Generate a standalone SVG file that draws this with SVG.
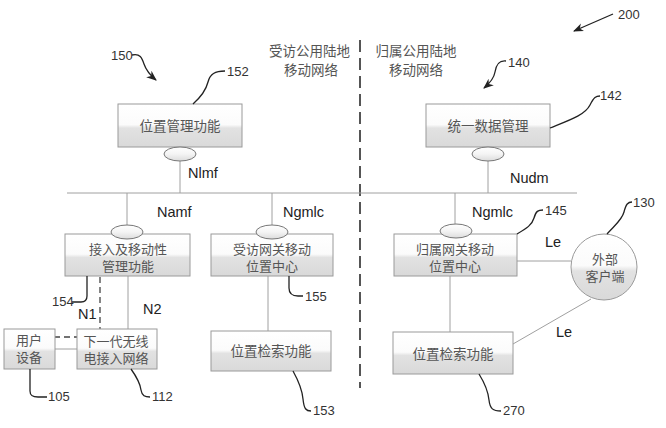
<svg xmlns="http://www.w3.org/2000/svg" width="666" height="428" viewBox="0 0 666 428">
<defs>
<linearGradient id="boxg" x1="0" y1="0" x2="0" y2="1">
<stop offset="0" stop-color="#ffffff"/>
<stop offset="0.48" stop-color="#fbfbfb"/>
<stop offset="0.56" stop-color="#e2e2e2"/>
<stop offset="1" stop-color="#d9d9d9"/>
</linearGradient>
<linearGradient id="ellg" x1="0" y1="0" x2="0" y2="1">
<stop offset="0" stop-color="#ffffff"/>
<stop offset="0.5" stop-color="#f4f4f4"/>
<stop offset="1" stop-color="#dcdcdc"/>
</linearGradient>
<marker id="ah" viewBox="0 0 10 10" refX="9" refY="5" markerWidth="8" markerHeight="8" orient="auto-start-reverse">
<path d="M0,1 L10,5 L0,9 L3,5 Z" fill="#222"/>
</marker>
</defs>
<style>
.box{fill:url(#boxg);stroke:#9a9a9a;stroke-width:1}
.ell{fill:url(#ellg);stroke:#777;stroke-width:1}
.ln{stroke:#a0a0a0;stroke-width:1;fill:none}
.ld{stroke:#222;stroke-width:1.3;fill:none}
.cn{font-family:"Noto Sans CJK SC","Noto Sans CJK JP",sans-serif;font-size:13.5px;fill:#555;text-anchor:middle}
.c2{font-size:13px}
.lab{font-family:"Liberation Sans","Open Sans",Arial,sans-serif;font-size:14.5px;fill:#222}
.ref{font-family:"Liberation Sans",Arial,sans-serif;font-size:13px;fill:#333}
</style>
<rect width="666" height="428" fill="#ffffff"/>

<!-- divider and region titles -->
<line x1="360" y1="40" x2="360" y2="388" stroke="#555" stroke-width="2" stroke-dasharray="12,6"/>
<text class="cn" x="309.5" y="56">受访公用陆地</text>
<text class="cn" x="311" y="75">移动网络</text>
<text class="cn" x="416" y="56">归属公用陆地</text>
<text class="cn" x="416" y="75">移动网络</text>

<g id="connectors">
<line class="ln" x1="67" y1="193" x2="577" y2="193"/>
<line class="ln" x1="180" y1="161" x2="180" y2="193"/>
<line class="ln" x1="488" y1="161" x2="488" y2="193"/>
<line class="ln" x1="127" y1="193" x2="127" y2="225"/>
<line class="ln" x1="272" y1="193" x2="272" y2="225"/>
<line class="ln" x1="455" y1="193" x2="455" y2="224"/>
<line class="ln" x1="128" y1="276" x2="128" y2="329"/>
<line class="ln" x1="55" y1="349" x2="77" y2="349"/>
<path d="M100,277 L100,337 L48,337" fill="none" stroke="#444" stroke-width="1.3" stroke-dasharray="6,4"/>
<line class="ln" x1="268" y1="276" x2="268" y2="331"/>
<line class="ln" x1="450" y1="276" x2="450" y2="332"/>
<line class="ln" x1="517" y1="261" x2="571" y2="261"/>
<line class="ln" x1="513" y1="344" x2="591" y2="299"/>
<text class="lab" x="188" y="178">Nlmf</text>
<text class="lab" x="510" y="183">Nudm</text>
<text class="lab" x="157" y="217">Namf</text>
<text class="lab" x="283" y="217">Ngmlc</text>
<text class="lab" x="472" y="217">Ngmlc</text>
<text class="lab" x="143" y="314">N2</text>
<text class="lab" x="78" y="319">N1</text>
<text class="lab" x="545" y="247">Le</text>
<text class="lab" x="556" y="337">Le</text>
</g>

<g id="lmf">
<rect class="box" x="118" y="104" width="124" height="43"/>
<text class="cn" x="180" y="131">位置管理功能</text>
<ellipse class="ell" cx="180" cy="154" rx="16" ry="7"/>
</g>

<g id="udm">
<rect class="box" x="426" y="104" width="124" height="43"/>
<text class="cn" x="488" y="131">统一数据管理</text>
<ellipse class="ell" cx="488" cy="154" rx="16" ry="7"/>
</g>

<g id="amf">
<rect class="box" x="65" y="234" width="125" height="42"/>
<text class="cn c2" x="128" y="254">接入及移动性</text>
<text class="cn c2" x="128" y="271">管理功能</text>
<ellipse class="ell" cx="127" cy="232" rx="16" ry="7"/>
</g>

<g id="vgmlc">
<rect class="box" x="211" y="234" width="122" height="42"/>
<text class="cn c2" x="272" y="254">受访网关移动</text>
<text class="cn c2" x="272" y="271">位置中心</text>
<ellipse class="ell" cx="272" cy="232" rx="16" ry="7"/>
</g>

<g id="hgmlc">
<rect class="box" x="394" y="234" width="123" height="42"/>
<text class="cn c2" x="455" y="254">归属网关移动</text>
<text class="cn c2" x="455" y="271">位置中心</text>
<ellipse class="ell" cx="456" cy="231" rx="16" ry="7"/>
</g>

<g id="ue">
<rect class="box" x="4" y="329" width="51" height="40"/>
<text class="cn c2" x="29" y="345">用户</text>
<text class="cn c2" x="29" y="362">设备</text>
</g>

<g id="ngran">
<rect class="box" x="77" y="329" width="80" height="40"/>
<text class="cn c2" x="116" y="346">下一代无线</text>
<text class="cn c2" x="116" y="363">电接入网络</text>
</g>

<g id="lrf-v">
<rect class="box" x="211" y="331" width="120" height="40"/>
<text class="cn" x="271" y="356">位置检索功能</text>
</g>

<g id="lrf-h">
<rect class="box" x="393" y="332" width="120" height="42"/>
<text class="cn" x="453" y="359">位置检索功能</text>
</g>

<g id="client">
<circle cx="604" cy="267" r="33" fill="url(#boxg)" stroke="#9a9a9a" stroke-width="1"/>
<text class="cn c2" x="605" y="264">外部</text>
<text class="cn c2" x="605" y="281">客户端</text>
</g>

<g id="refs">
<path class="ld" d="M613,14 L574,31" marker-end="url(#ah)"/>
<text class="ref" x="618" y="19">200</text>
<path class="ld" d="M132,55 C140,53 142,58 144,64 C146,70 150,75 156,80" marker-end="url(#ah)"/>
<text class="ref" x="111" y="60">150</text>
<path class="ld" d="M506,61 C498,60 496,66 495,72 C494,78 490,83 484,88" marker-end="url(#ah)"/>
<text class="ref" x="508" y="67">140</text>
<path class="ld" d="M193,104 C202,96 206,90 208,82 C210,74 215,71 225,71"/>
<text class="ref" x="227" y="76">152</text>
<path class="ld" d="M550,128 C570,120 585,115 590,105 C594,97 596,96 600,96"/>
<text class="ref" x="600" y="100">142</text>
<path class="ld" d="M517,234 C527,228 532,225 534,218 C536,211 538,210 543,210"/>
<text class="ref" x="545" y="215">145</text>
<path class="ld" d="M607,234 C615,225 622,220 624,212 C626,204 628,202 632,202"/>
<text class="ref" x="633" y="207">130</text>
<path class="ld" d="M87,276 L87,296 C87,300 85,302 81,302 L72,302"/>
<text class="ref" x="52" y="306">154</text>
<path class="ld" d="M289,276 L289,288 C289,294 292,296 298,296 L303,296"/>
<text class="ref" x="305" y="301">155</text>
<path class="ld" d="M30,369 L30,391 C30,396 33,397 38,397 L47,397"/>
<text class="ref" x="48" y="401">105</text>
<path class="ld" d="M131,369 C136,376 140,382 141,390 C142,396 145,397 150,397"/>
<text class="ref" x="152" y="401">112</text>
<path class="ld" d="M293,371 C298,380 302,388 303,399 C304,409 306,411 311,411"/>
<text class="ref" x="313" y="415">153</text>
<path class="ld" d="M479,374 C484,382 488,390 489,400 C490,409 493,411 501,411"/>
<text class="ref" x="503" y="415">270</text>
</g>
</svg>
